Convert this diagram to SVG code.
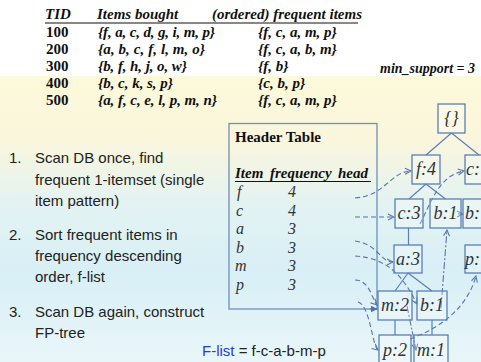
<svg xmlns="http://www.w3.org/2000/svg" width="481" height="362" viewBox="0 0 481 362">
<defs>
<linearGradient id="bg" x1="0" y1="76" x2="0" y2="362" gradientUnits="userSpaceOnUse">
<stop offset="0" stop-color="#fdf9da"/>
<stop offset="0.22" stop-color="#faf6dd"/>
<stop offset="0.45" stop-color="#e3f3f2"/>
<stop offset="0.68" stop-color="#d8eff6"/>
<stop offset="1" stop-color="#e9f6f9"/>
</linearGradient>
<marker id="arr" viewBox="0 0 8 8" refX="7" refY="4" markerWidth="8" markerHeight="8" markerUnits="userSpaceOnUse" orient="auto">
<path d="M1,1 L7,4 L1,7" fill="none" stroke="#5675ad" stroke-width="1.1"/>
</marker>
<marker id="arrS" viewBox="0 0 8 8" refX="7" refY="4" markerWidth="8" markerHeight="8" markerUnits="userSpaceOnUse" orient="auto">
<path d="M0,0.5 L7,4 L0,7.5 Z" fill="#4f70a8"/>
</marker>
</defs>
<style>
.tb{font-family:"Liberation Serif","Times New Roman",serif;font-weight:bold;font-size:15px;fill:#111}
.bi{font-style:italic}
.it{font-family:"Liberation Serif","Times New Roman",serif;font-style:italic;font-size:16px;fill:#333}
.nd rect{fill:#ffffff;fill-opacity:0.25;stroke:#5b7fb5;stroke-width:1.3}
.nd text{font-family:"Liberation Serif","Times New Roman",serif;font-style:italic;font-size:18px;fill:#333;text-anchor:middle}
.nd text.cut{text-anchor:start}
.sans{font-family:"Liberation Sans",Arial,sans-serif;font-size:15px;fill:#222}
.edge{stroke:#5b7fb5;stroke-width:1.2;fill:none}
.dl{stroke:#5675ad;stroke-width:1.1;fill:none;stroke-dasharray:5,3;marker-end:url(#arr)}
.dd{stroke:#5675ad;stroke-width:1.1;fill:none;stroke-dasharray:7,2,2,2;marker-end:url(#arr)}
</style>
<rect x="0" y="0" width="481" height="362" fill="#ffffff"/>
<rect x="0" y="76" width="481" height="286" fill="url(#bg)"/>

<g id="transactions">
<text class="tb bi" x="45" y="19">TID</text>
<text class="tb bi" x="97" y="19">Items bought</text>
<text class="tb bi" x="212" y="19">(ordered) frequent items</text>
<line x1="45" y1="23" x2="358" y2="23" stroke="#111" stroke-width="1.2"/>
<text class="tb" x="46" y="37" font-size="16">100</text>
<text class="tb bi" x="98" y="37" font-size="15.5" textLength="117">{f, a, c, d, g, i, m, p}</text>
<text class="tb bi" x="258" y="37">{f, c, a, m, p}</text>
<text class="tb" x="46" y="54" font-size="16">200</text>
<text class="tb bi" x="98" y="54" font-size="15.5" textLength="107">{a, b, c, f, l, m, o}</text>
<text class="tb bi" x="258" y="54">{f, c, a, b, m}</text>
<text class="tb" x="46" y="71" font-size="16">300</text>
<text class="tb bi" x="98" y="71" font-size="15.5" textLength="89">{b, f, h, j, o, w}</text>
<text class="tb bi" x="258" y="71">{f, b}</text>
<text class="tb" x="46" y="88" font-size="16">400</text>
<text class="tb bi" x="98" y="88" font-size="15.5" textLength="75">{b, c, k, s, p}</text>
<text class="tb bi" x="258" y="88">{c, b, p}</text>
<text class="tb" x="46" y="105" font-size="16">500</text>
<text class="tb bi" x="98" y="105" font-size="15.5" textLength="119">{a, f, c, e, l, p, m, n}</text>
<text class="tb bi" x="258" y="105">{f, c, a, m, p}</text>
<text class="tb bi" x="380" y="73" font-size="12.8" textLength="95" lengthAdjust="spacingAndGlyphs">min_support = 3</text>
</g>

<g id="steps">
<text class="sans" x="9" y="163">1.</text>
<text class="sans" x="35" y="163">Scan DB once, find</text>
<text class="sans" x="35" y="185">frequent 1-itemset (single</text>
<text class="sans" x="35" y="206">item pattern)</text>
<text class="sans" x="9" y="240">2.</text>
<text class="sans" x="35" y="240">Sort frequent items in</text>
<text class="sans" x="35" y="261">frequency descending</text>
<text class="sans" x="35" y="282">order, f-list</text>
<text class="sans" x="9" y="317">3.</text>
<text class="sans" x="35" y="317">Scan DB again, construct</text>
<text class="sans" x="35" y="338">FP-tree</text>
</g>

<g id="flist">
<text class="sans" x="202" y="356" font-size="17"><tspan fill="#1f3fd6">F-list</tspan> = f-c-a-b-m-p</text>
</g>

<g id="header-table">
<rect x="229" y="123.5" width="148" height="185.5" fill="none" stroke="#6f8fb8" stroke-width="1.3"/>
<text class="tb" x="235" y="142">Header Table</text>
<text class="tb bi" x="235" y="178">Item</text>
<text class="tb bi" x="270" y="178">frequency</text>
<text class="tb bi" x="338" y="178">head</text>
<line x1="235" y1="181.5" x2="371" y2="181.5" stroke="#111" stroke-width="1.2"/>
<text class="it" x="237" y="197">f</text><text class="it" x="288" y="197">4</text>
<text class="it" x="236" y="216">c</text><text class="it" x="288" y="216">4</text>
<text class="it" x="236" y="234">a</text><text class="it" x="288" y="234">3</text>
<text class="it" x="236" y="253">b</text><text class="it" x="288" y="253">3</text>
<text class="it" x="235" y="271">m</text><text class="it" x="288" y="271">3</text>
<text class="it" x="236" y="290">p</text><text class="it" x="288" y="290">3</text>
</g>

<g id="connectors">
<path class="edge" d="M451.5,133 L426,155 M451.5,133 L479,155"/>
<path class="edge" d="M426,184 L409,199 M426,184 L445.5,199"/>
<path class="edge" d="M408.5,228 L408.5,245"/>
<path class="edge" d="M408,273 L395,291 M408,273 L432,291"/>
<path class="edge" d="M395,320 L395,335 M432,320 L432,335"/>
<path class="dl" d="M355,198 C385,196 390,172 411,171"/>
<path class="dl" d="M355,217 L394,217"/>
<path class="dl" d="M420,224 C432,200 440,175 464,171"/>
<path class="dl" d="M458,214 L463,214"/>
<path class="dl" d="M355,241 C378,244 380,262 393,262"/>
<path class="dl" d="M355,256 C390,258 405,280 417,304"/>
<path class="dd" d="M441,308 L447,230"/>
<path class="dl" d="M355,280 C370,280 372,300 377,305"/>
<path d="M370,309 L377.5,309" stroke="#4f70a8" stroke-width="1.2" fill="none" marker-end="url(#arrS)"/>
<path class="dl" d="M358,302 C370,305 372,345 378,350"/>
<path class="dd" d="M407,306 L416,350"/>
<path class="dl" d="M410,339 C445,326 468,305 476,276"/>
</g>

<g id="n-root" class="nd"><rect x="438" y="104" width="27" height="29"/><text x="451.5" y="124">{}</text></g>
<g id="n-f4" class="nd"><rect x="412" y="155" width="28" height="29"/><text x="426" y="175">f:4</text></g>
<g id="n-c1" class="nd"><rect x="465" y="155" width="28" height="29"/><text class="cut" x="466" y="175">c:</text></g>
<g id="n-c3" class="nd"><rect x="395" y="199" width="28" height="29"/><text x="409" y="219">c:3</text></g>
<g id="n-b1a" class="nd"><rect x="430" y="199" width="31" height="29"/><text x="445.5" y="219">b:1</text></g>
<g id="n-b1b" class="nd"><rect x="463" y="199" width="30" height="29"/><text class="cut" x="465" y="219">b:</text></g>
<g id="n-a3" class="nd"><rect x="394" y="245" width="28" height="28"/><text x="408" y="265">a:3</text></g>
<g id="n-p1" class="nd"><rect x="465" y="245" width="30" height="28"/><text class="cut" x="465" y="265">p:</text></g>
<g id="n-m2" class="nd"><rect x="378" y="291" width="34" height="29"/><text x="395" y="311">m:2</text></g>
<g id="n-b1c" class="nd"><rect x="417" y="291" width="30" height="29"/><text x="432" y="311">b:1</text></g>
<g id="n-p2" class="nd"><rect x="379" y="335" width="32" height="30"/><text x="395" y="356">p:2</text></g>
<g id="n-m1" class="nd"><rect x="414" y="335" width="34" height="30"/><text x="431" y="356">m:1</text></g>
</svg>
